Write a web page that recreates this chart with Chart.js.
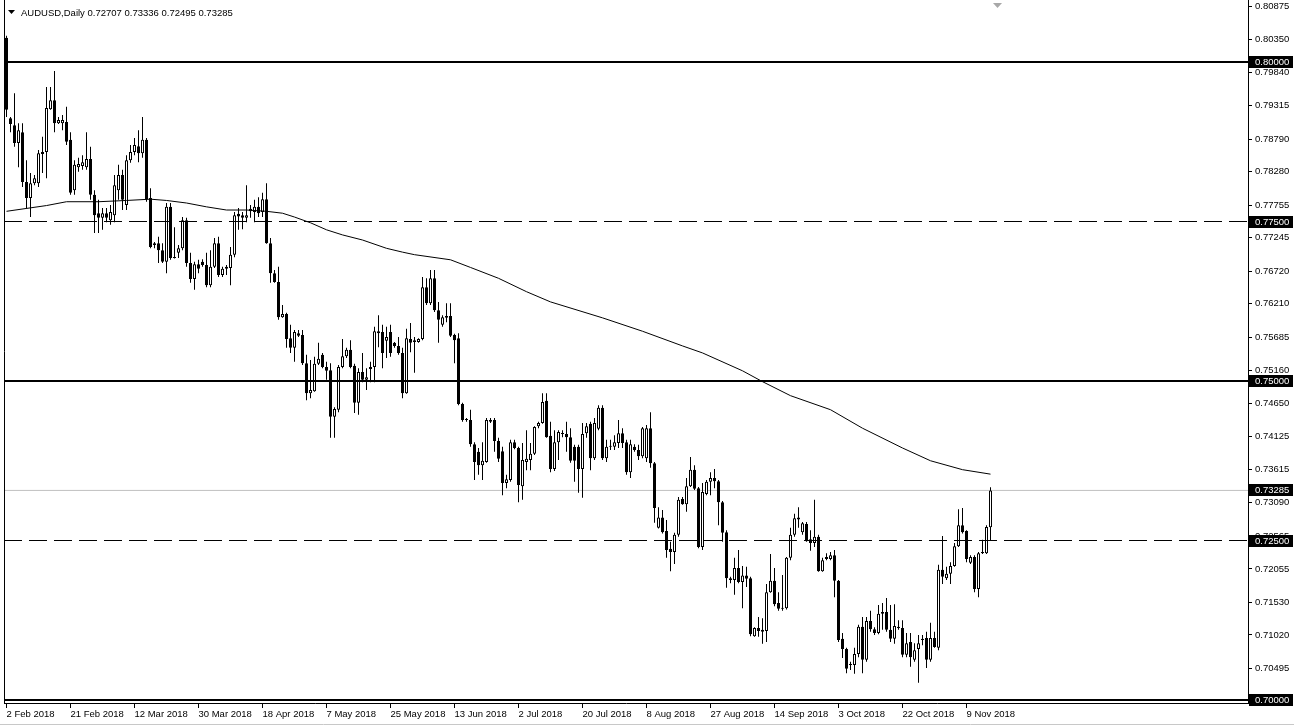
<!DOCTYPE html>
<html>
<head>
<meta charset="utf-8">
<title>AUDUSD,Daily</title>
<script src="https://cdn.jsdelivr.net/npm/chart.js@4/dist/chart.umd.min.js"></script>
<style>
  html, body { margin: 0; padding: 0; background: #fff; }
</style>
</head>
<body>
<canvas id="myChart" width="1294" height="727"></canvas>
<script>
const title = "AUDUSD,Daily";
const dateLabels = ["2 Feb 2018", "21 Feb 2018", "12 Mar 2018", "30 Mar 2018", "18 Apr 2018", "7 May 2018",
  "25 May 2018", "13 Jun 2018", "2 Jul 2018", "20 Jul 2018", "8 Aug 2018", "27 Aug 2018",
  "14 Sep 2018", "3 Oct 2018", "22 Oct 2018", "9 Nov 2018"];
const barsPerLabel = 16;

// daily candles, oldest first
const open = [
  .8038,.7912,.7901,.7873,.7890,.7812,.7787,.7810,.7810,.7856,.7859,.7926,.7940,.7904,.7904,.7906,.7878,.7799,.7835,.7837,
  .7835,.7848,.7792,.7763,.7756,.7763,.7752,.7760,.7799,.7823,.7776,.7846,.7859,.7868,.7857,.7878,.7787,.7716,.7716,.7705,
  .7687,.7773,.7694,.7701,.7708,.7752,.7685,.7660,.7683,.7687,.7682,.7650,.7679,.7716,.7666,.7676,.7677,.7698,.7762,.7760,
  .7756,.7770,.7765,.7773,.7765,.7785,.7716,.7669,.7655,.7600,.7605,.7567,.7552,.7575,.7572,.7528,.7481,.7484,.7527,.7541,
  .7522,.7517,.7444,.7455,.7522,.7539,.7549,.7524,.7466,.7514,.7502,.7522,.7522,.7578,.7577,.7563,.7577,.7560,.7555,.7544,
  .7481,.7566,.7561,.7561,.7566,.7647,.7622,.7661,.7611,.7588,.7602,.7602,.7572,.7567,.7464,.7440,.7439,.7401,.7389,.7368,
  .7373,.7439,.7439,.7406,.7390,.7340,.7345,.7404,.7395,.7335,.7373,.7376,.7386,.7429,.7434,.7469,.7414,.7362,.7404,.7418,
  .7417,.7412,.7397,.7397,.7362,.7418,.7433,.7379,.7425,.7458,.7379,.7398,.7397,.7403,.7418,.7404,.7357,.7397,.7392,.7382,
  .7379,.7426,.7371,.7270,.7286,.7265,.7237,.7232,.7259,.7315,.7307,.7335,.7361,.7332,.7240,.7323,.7342,.7348,.7343,.7310,
  .7263,.7191,.7188,.7207,.7185,.7195,.7191,.7100,.7113,.7110,.7108,.7169,.7187,.7152,.7144,.7144,.7223,.7259,.7286,.7263,
  .7276,.7252,.7246,.7256,.7202,.7224,.7221,.7227,.7187,.7096,.7080,.7056,.7055,.7072,.7115,.7063,.7124,.7111,.7105,.7135,
  .7138,.7110,.7096,.7115,.7113,.7071,.7091,.7063,.7080,.7096,.7097,.7063,.7097,.7082,.7204,.7191,.7198,.7210,.7241,.7274,
  .7265,.7215,.7224,.7174,.7232,.7230,.72707
];
const high = [
  .8041,.7914,.7951,.7904,.7904,.7846,.7826,.7823,.7862,.7883,.7961,.7961,.7986,.7914,.7917,.7930,.7890,.7846,.7850,.7854,
  .7890,.7867,.7799,.7784,.7771,.7771,.7776,.7823,.7839,.7831,.7854,.7870,.7881,.7893,.7914,.7881,.7802,.7718,.7726,.7716,
  .7779,.7779,.7741,.7713,.7757,.7756,.7701,.7687,.7690,.7691,.7701,.7705,.7724,.7726,.7679,.7682,.7710,.7765,.7771,.7765,
  .7807,.7776,.7784,.7788,.7795,.7810,.7724,.7674,.7679,.7619,.7607,.7588,.7580,.7580,.7580,.7541,.7533,.7538,.7560,.7544,
  .7530,.7528,.7459,.7525,.7566,.7552,.7564,.7527,.7520,.7544,.7520,.7530,.7585,.7603,.7588,.7585,.7588,.7561,.7569,.7552,
  .7582,.7591,.7569,.7567,.7663,.7661,.7674,.7674,.7624,.7603,.7622,.7622,.7574,.7575,.7466,.7442,.7455,.7404,.7395,.7404,
  .7442,.7442,.7442,.7411,.7397,.7353,.7408,.7408,.7397,.7403,.7423,.7403,.7429,.7436,.7481,.7481,.7436,.7423,.7423,.7423,
  .7436,.7426,.7400,.7400,.7434,.7434,.7436,.7442,.7462,.7462,.7408,.7408,.7415,.7439,.7426,.7408,.7408,.7401,.7400,.7428,
  .7431,.7451,.7373,.7302,.7298,.7282,.7248,.7262,.7318,.7318,.7348,.7381,.7368,.7334,.7340,.7345,.7357,.7362,.7345,.7312,
  .7266,.7193,.7223,.7235,.7210,.7209,.7193,.7114,.7130,.7128,.7182,.7229,.7207,.7169,.7196,.7224,.7270,.7292,.7302,.7279,
  .7279,.7266,.7314,.7259,.7223,.7230,.7232,.7235,.7188,.7105,.7082,.7060,.7082,.7118,.7130,.7130,.7140,.7114,.7149,.7152,
  .7160,.7149,.7150,.7125,.7125,.7105,.7105,.7089,.7102,.7102,.7107,.7121,.7107,.7212,.7257,.7209,.7216,.7246,.7299,.7301,
  .7266,.7227,.7227,.7232,.7251,.7274,.73336
];
const low = [
  .7914,.7890,.7867,.7835,.7804,.7771,.7757,.7807,.7804,.7826,.7818,.7925,.7890,.7903,.7893,.7870,.7792,.7792,.7828,.7831,
  .7831,.7784,.7732,.7732,.7737,.7749,.7745,.7749,.7784,.7768,.7768,.7842,.7854,.7843,.7850,.7781,.7708,.7708,.7685,.7685,
  .7669,.7690,.7692,.7693,.7705,.7679,.7654,.7643,.7669,.7679,.7647,.7647,.7677,.7663,.7663,.7666,.7650,.7694,.7737,.7738,
  .7749,.7756,.7749,.7757,.7757,.7715,.7654,.7654,.7596,.7599,.7552,.7544,.7530,.7569,.7525,.7470,.7473,.7483,.7525,.7520,
  .7502,.7411,.7411,.7451,.7520,.7536,.7520,.7450,.7447,.7498,.7486,.7498,.7498,.7553,.7520,.7536,.7538,.7552,.7541,.7473,
  .7480,.7545,.7513,.7560,.7564,.7619,.7619,.7608,.7560,.7585,.7592,.7569,.7528,.7462,.7436,.7436,.7397,.7345,.7353,.7345,
  .7372,.7434,.7389,.7373,.7321,.7332,.7342,.7393,.7310,.7314,.7360,.7360,.7384,.7426,.7433,.7411,.7357,.7359,.7376,.7412,
  .7389,.7372,.7342,.7325,.7317,.7411,.7360,.7376,.7423,.7376,.7373,.7392,.7392,.7395,.7395,.7353,.7348,.7389,.7376,.7379,
  .7373,.7364,.7278,.7269,.7261,.7223,.7202,.7213,.7256,.7306,.7295,.7334,.7329,.7238,.7235,.7321,.7321,.7332,.7274,.7248,
  .7176,.7183,.7165,.7183,.7144,.7177,.7100,.7099,.7099,.7088,.7091,.7168,.7147,.7140,.7140,.7142,.7219,.7256,.7270,.7259,
  .7248,.7234,.7240,.7201,.7201,.7219,.7219,.7161,.7091,.7066,.7042,.7047,.7041,.7067,.7042,.7060,.7107,.7102,.7103,.7110,
  .7107,.7091,.7088,.7110,.7067,.7067,.7052,.7060,.7027,.7086,.7050,.7060,.7082,.7078,.7182,.7188,.7182,.7209,.7240,.7261,
  .7216,.7213,.7169,.7161,.7229,.7229,.72495
];
const close = [
  .7925,.7903,.7873,.7893,.7812,.7787,.7810,.7818,.7857,.7859,.7928,.7940,.7904,.7909,.7909,.7875,.7795,.7839,.7840,.7843,
  .7848,.7792,.7760,.7756,.7763,.7756,.7765,.7807,.7823,.7784,.7846,.7859,.7870,.7857,.7878,.7785,.7710,.7713,.7705,.7687,
  .7773,.7693,.7693,.7708,.7752,.7685,.7660,.7683,.7676,.7682,.7650,.7679,.7716,.7666,.7676,.7679,.7698,.7760,.7758,.7756,
  .7760,.7766,.7773,.7763,.7785,.7716,.7669,.7655,.7600,.7605,.7566,.7552,.7577,.7571,.7528,.7481,.7486,.7527,.7535,.7522,
  .7516,.7444,.7456,.7522,.7539,.7549,.7522,.7466,.7514,.7502,.7506,.7519,.7578,.7575,.7544,.7569,.7544,.7555,.7544,.7481,
  .7567,.7560,.7564,.7566,.7647,.7622,.7661,.7611,.7596,.7600,.7599,.7571,.7564,.7464,.7439,.7439,.7401,.7373,.7368,.7375,
  .7439,.7436,.7406,.7378,.7340,.7346,.7404,.7395,.7337,.7376,.7378,.7386,.7428,.7434,.7467,.7412,.7362,.7404,.7420,.7417,
  .7412,.7375,.7375,.7362,.7417,.7429,.7379,.7434,.7458,.7379,.7397,.7397,.7404,.7418,.7403,.7357,.7401,.7392,.7382,.7426,
  .7426,.7371,.7301,.7286,.7263,.7235,.7232,.7259,.7314,.7307,.7335,.7361,.7331,.7240,.7326,.7342,.7348,.7343,.7310,.7262,
  .7191,.7188,.7207,.7185,.7195,.7190,.7103,.7113,.7108,.7107,.7169,.7187,.7150,.7143,.7143,.7223,.7259,.7285,.7283,.7277,
  .7249,.7246,.7256,.7202,.7219,.7221,.7227,.7187,.7094,.7080,.7049,.7055,.7072,.7115,.7063,.7124,.7111,.7105,.7135,.7138,
  .7110,.7096,.7116,.7113,.7071,.7089,.7067,.7078,.7089,.7094,.7063,.7097,.7083,.7204,.7193,.7198,.7210,.7241,.7274,.7263,
  .7221,.7224,.7174,.7230,.7230,.7271,.73285
];

// moving average, read at some bars
const maBars = [0,10,15,23,30,36,40,45,50,55,60,65,69,72,76,80,84,89,95,99,102,111,116,123,130,136,149,159,169,174,184,189,196,206,214,224,231,239,246];
const maValues = [.7766,.7775,.7781,.7781,.7783,.7785,.7783,.7779,.7773,.7768,.7768,.7766,.7763,.7757,.7748,.7737,.7729,.7721,.7708,.7702,
  .7698,.7690,.7678,.7661,.7640,.7624,.7599,.7578,.7555,.7544,.7516,.7499,.7477,.7455,.7426,.7395,.7375,.7361,.7354];

const yTicks = [0.80875,0.80350,0.79840,0.79315,0.78790,0.78280,0.77755,0.77245,0.76720,0.76210,0.75685,
  0.75160,0.74650,0.74125,0.73615,0.73090,0.72565,0.72055,0.71530,0.71020,0.70495];
const levels = [0.80, 0.775, 0.75, 0.725, 0.70];
const levelDashed = [false, true, false, true, false];
const lastPrice = close[close.length - 1];

const yMin = 0.69953, yMax = 0.80972;
const xMin = -0.625, xMax = 310.375;
const font = { family: "Liberation Sans", size: 9.5 };

const idx = open.map((_, i) => i);
const isUp = i => close[i] >= open[i];

const datasets = [];
levels.forEach((v, k) => {
  datasets.push({
    type: "line",
    data: [{ x: xMin, y: v }, { x: xMax, y: v }],
    borderColor: "#000",
    borderWidth: levelDashed[k] ? 1 : 2,
    borderDash: levelDashed[k] ? [18, 7] : [],
    pointRadius: 0,
    order: 0,
  });
});
datasets.push({
  type: "line",
  data: maBars.map((b, k) => ({ x: b, y: maValues[k] })),
  borderColor: "#000",
  borderWidth: 1,
  pointRadius: 0,
  tension: 0,
  order: 0,
});
datasets.push({
  type: "bar",
  data: idx.map(i => ({ x: i, y: [open[i], close[i]] })),
  backgroundColor: c => (isUp(c.dataIndex) ? "#fff" : "#000"),
  borderColor: "#000",
  borderWidth: 1,
  borderSkipped: false,
  barThickness: 3,
  minBarLength: 1,
  inflateAmount: 0,
  grouped: false,
  order: 1,
});
datasets.push({
  type: "bar",
  data: idx.map(i => ({ x: i, y: [low[i], high[i]] })),
  backgroundColor: "#000",
  borderWidth: 0,
  barThickness: 1,
  inflateAmount: 0,
  grouped: false,
  order: 2,
});
datasets.push({
  type: "line",
  data: [{ x: xMin, y: lastPrice }, { x: xMax, y: lastPrice }],
  borderColor: "#c0c0c0",
  borderWidth: 1,
  pointRadius: 0,
  order: 3,
});

const noPad = s => {
  s.paddingTop = 0;
  s.paddingBottom = 0;
  s.paddingLeft = 0;
  s.paddingRight = 0;
};

const overlay = {
  id: "overlay",
  afterDraw(chart) {
    const ctx = chart.ctx;
    const area = chart.chartArea;
    const ys = chart.scales.y;
    ctx.save();
    // left frame and window edge
    ctx.strokeStyle = "#000";
    ctx.lineWidth = 1;
    ctx.beginPath();
    ctx.moveTo(area.left + 0.5, 0);
    ctx.lineTo(area.left + 0.5, area.bottom);
    ctx.stroke();
    ctx.strokeStyle = "#c8c8c8";
    ctx.beginPath();
    ctx.moveTo(0, 724.5);
    ctx.lineTo(chart.width, 724.5);
    ctx.stroke();
    // price boxes on the axis
    ctx.font = font.size + "px " + font.family;
    ctx.textBaseline = "middle";
    ctx.textAlign = "left";
    levels.concat([lastPrice]).forEach(v => {
      const py = Math.round(ys.getPixelForValue(v));
      ctx.fillStyle = "#000";
      ctx.fillRect(area.right + 1, py - 6, 44, 12);
      ctx.fillStyle = "#fff";
      ctx.fillText(v.toFixed(5), area.right + 7, py + 0.5);
    });
    // header
    ctx.fillStyle = "#000";
    ctx.beginPath();
    ctx.moveTo(8, 10);
    ctx.lineTo(15, 10);
    ctx.lineTo(11.5, 14);
    ctx.closePath();
    ctx.fill();
    ctx.fillText(title + " " + [open, high, low, close].map(a => a[a.length - 1].toFixed(5)).join(" "), 21, 13);
    // chart shift marker
    ctx.fillStyle = "#a8a8a8";
    ctx.beginPath();
    ctx.moveTo(993, 3);
    ctx.lineTo(1002, 3);
    ctx.lineTo(997.5, 8);
    ctx.closePath();
    ctx.fill();
    ctx.restore();
  },
};

new Chart(document.getElementById("myChart"), {
  type: "bar",
  data: { datasets: datasets },
  options: {
    responsive: false,
    animation: false,
    devicePixelRatio: 1,
    layout: { padding: { left: 4, top: 0, right: 0, bottom: 0 } },
    plugins: { legend: { display: false }, tooltip: { enabled: false } },
    scales: {
      x: {
        type: "linear",
        min: xMin,
        max: xMax,
        offset: false,
        afterBuildTicks: s => {
          s.ticks = dateLabels.map((_, k) => ({ value: k * barsPerLabel }));
        },
        afterFit: s => {
          s.height = 24;
          noPad(s);
        },
        ticks: {
          align: "start",
          autoSkip: false,
          maxRotation: 0,
          padding: 1,
          color: "#000",
          font: font,
          callback: v => dateLabels[Math.round(v / barsPerLabel)],
        },
        grid: { drawOnChartArea: false, offset: false, tickLength: 5, color: "#000" },
        border: { color: "#000" },
      },
      y: {
        position: "right",
        min: yMin,
        max: yMax,
        afterBuildTicks: s => {
          s.ticks = yTicks.map(v => ({ value: v }));
        },
        afterFit: s => {
          s.width = 46;
          noPad(s);
        },
        ticks: {
          padding: 3,
          color: "#000",
          font: font,
          callback: v => v.toFixed(5),
        },
        grid: { drawOnChartArea: false, tickLength: 4, color: "#000" },
        border: { color: "#000" },
      },
    },
  },
  plugins: [overlay],
});
</script>
</body>
</html>
